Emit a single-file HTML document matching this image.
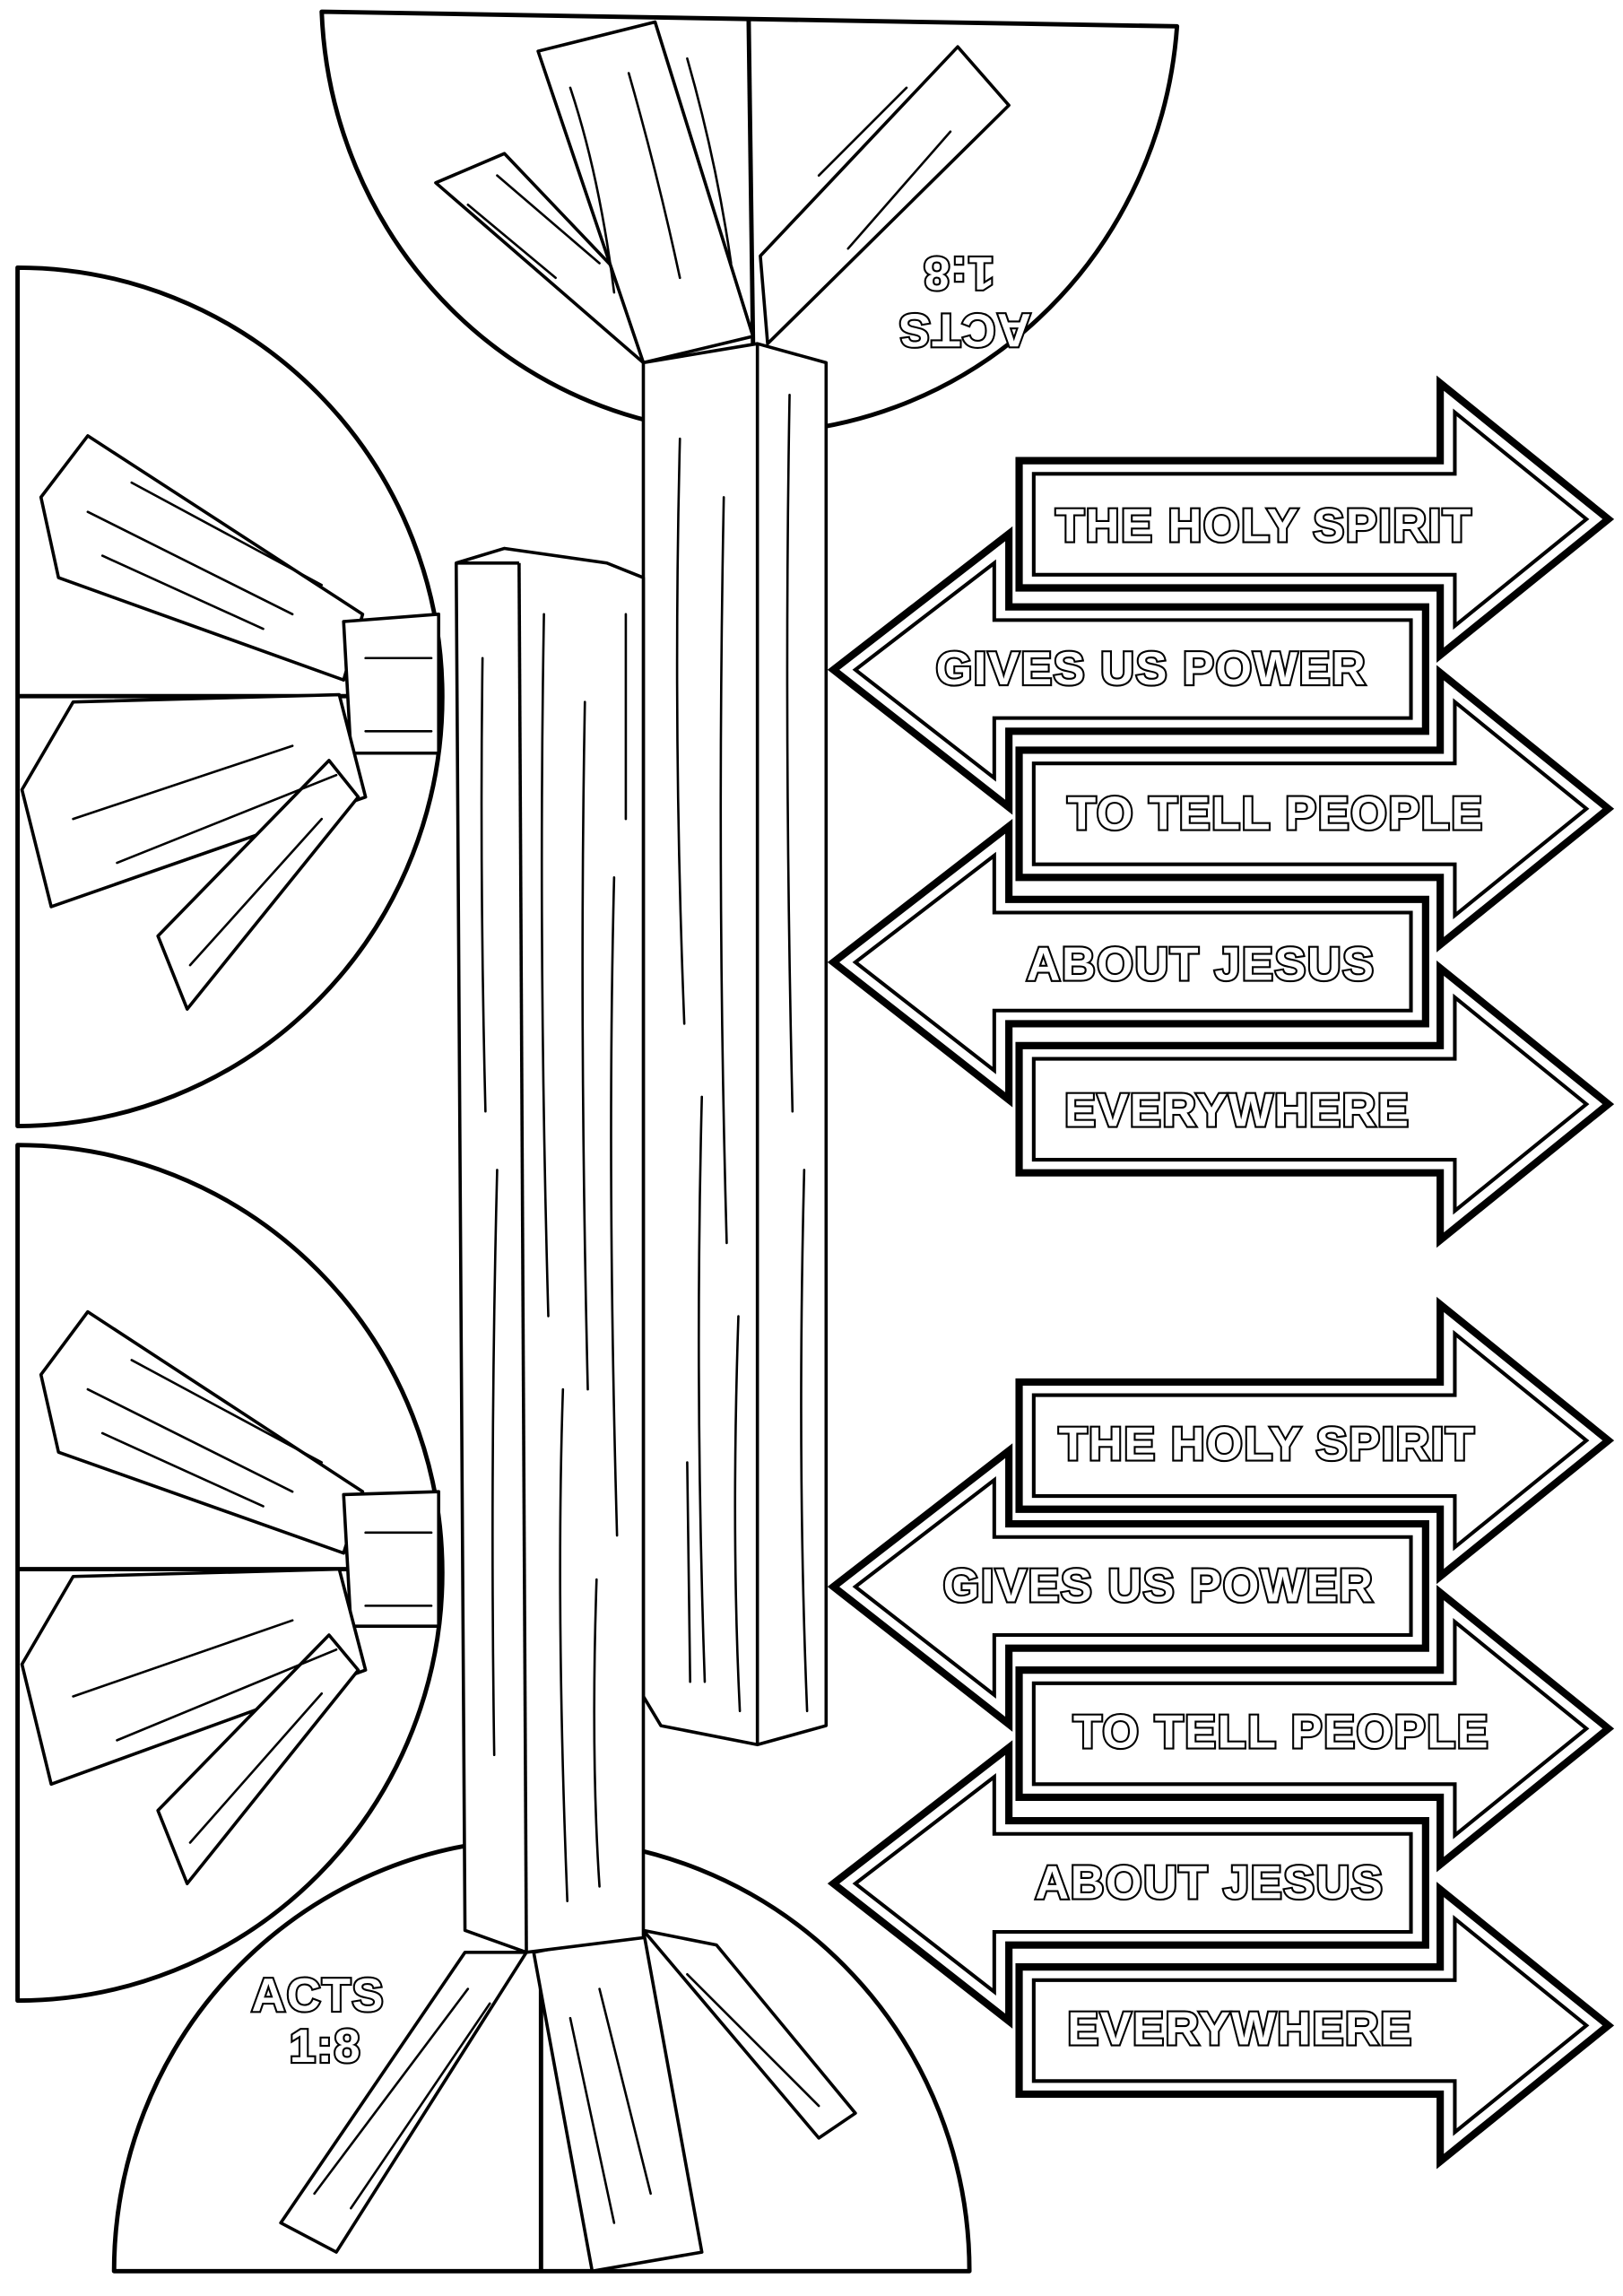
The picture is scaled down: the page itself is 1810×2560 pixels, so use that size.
<!DOCTYPE html>
<html><head><meta charset="utf-8"><style>
html,body{margin:0;padding:0;background:#fff;}
svg{display:block;}
.t{font-family:"Liberation Sans",sans-serif;font-weight:bold;font-size:32px;fill:#fff;stroke:#000;stroke-width:2.6;paint-order:stroke;letter-spacing:1px;}
</style></head><body>
<svg width="1810" height="2560" viewBox="0 0 1110 1570" xmlns="http://www.w3.org/2000/svg">
<rect width="1110" height="1570" fill="#fff"/>
<g fill="#fff" stroke="#000" stroke-width="3" stroke-linejoin="round">
<path d="M220,8 L805,18 A293,300 0 0 1 220,8 Z"/>
<path d="M12,183 L12,770 A290,293 0 0 0 12,183 Z"/>
<path d="M12,783 L12,1368 A290,292 0 0 0 12,783 Z"/>
<path d="M78,1553 L663,1553 A292,295 0 0 0 78,1553 Z"/>
<line x1="512" y1="12" x2="515" y2="235"/>
<line x1="12" y1="476" x2="300" y2="476"/>
<line x1="12" y1="1073" x2="300" y2="1073"/>
<line x1="370" y1="1335" x2="370" y2="1553"/>
</g>
<g fill="#fff" stroke="#000" stroke-width="2.2" stroke-linejoin="round">
<polygon points="298,125 345,105 445,210 440,248"/>
<polygon points="368,35 448,15 515,230 440,248"/>
<polygon points="520,175 655,32 690,72 525,235"/>
<polygon points="28,340 60,298 248,420 235,465 40,395"/>
<polygon points="235,425 300,420 300,515 240,515"/>
<polygon points="15,540 50,480 232,475 250,545 35,620"/>
<polygon points="108,640 225,520 245,545 128,690"/>
<polygon points="28,940 60,897 248,1020 235,1062 40,993"/>
<polygon points="235,1022 300,1020 300,1112 240,1112"/>
<polygon points="15,1138 50,1078 232,1073 250,1142 35,1220"/>
<polygon points="108,1238 225,1118 245,1142 128,1288"/>
<polygon points="192,1520 318,1335 360,1335 230,1540"/>
<polygon points="365,1335 440,1320 480,1540 405,1553"/>
<polygon points="440,1320 490,1330 585,1445 560,1462"/>
<polygon points="440,248 518,235 565,248 565,1180 518,1193 452,1180 440,1160"/>
<line x1="518" y1="235" x2="518" y2="1193"/>
<polygon points="312,385 345,375 415,385 440,395 440,1325 360,1335 318,1320"/>
<line x1="355" y1="385" x2="360" y2="1335"/>
<line x1="312" y1="385" x2="355" y2="385"/>
</g>
<g stroke="#000" stroke-width="1.6" fill="none" stroke-linecap="round">
<path d="M330,450 Q328,600 332,760 M340,800 Q335,1000 338,1200 M372,420 Q368,650 375,900 M385,950 Q380,1100 388,1300 M400,480 Q396,700 402,950 M420,600 Q415,800 422,1050 M408,1080 Q404,1200 410,1290 M428,420 L428,560"/>
<path d="M465,300 Q460,500 468,700 M480,750 Q475,950 482,1150 M495,340 Q490,600 497,850 M505,900 Q500,1050 506,1170 M540,270 Q536,500 542,760 M550,800 Q545,1000 552,1170 M470,1000 L472,1150"/>
<path d="M390,60 Q410,120 420,200 M430,50 Q450,120 465,190 M470,40 Q490,110 500,180 M560,120 L620,60 M580,170 L650,90 M320,140 L380,190 M340,120 L410,180"/>
<path d="M60,350 L200,420 M90,330 L220,400 M70,380 L180,430 M50,560 L200,510 M80,590 L230,530 M250,450 L295,450 M250,500 L295,500 M130,660 L220,560"/>
<path d="M60,950 L200,1020 M90,930 L220,1000 M70,980 L180,1030 M50,1160 L200,1108 M80,1190 L230,1128 M250,1048 L295,1048 M250,1098 L295,1098 M130,1260 L220,1158"/>
<path d="M215,1500 L320,1360 M240,1510 L335,1370 M390,1380 L420,1520 M410,1360 L445,1500 M470,1350 L560,1440"/>
</g>
<g class="t" style="font-size:32px">
<text x="615" y="195" transform="rotate(180 660 205)">ACTS</text>
<text x="630" y="160" transform="rotate(180 655 168)">1:8</text>
<text x="172" y="1375">ACTS</text>
<text x="198" y="1410">1:8</text>
</g>
<defs>
<g id="R"><polygon points="697,315 985,315 985,262 1100,355 985,448 985,402 697,402" fill="#fff" stroke="#000" stroke-width="5" stroke-linejoin="miter"/>
<polygon points="707,324 995,324 995,282 1085,355 995,428 995,393 707,393" fill="none" stroke="#000" stroke-width="2.5"/></g>
<g id="L"><polygon points="975,415 690,415 690,365 570,458 690,552 690,500 975,500" fill="#fff" stroke="#000" stroke-width="5" stroke-linejoin="miter"/>
<polygon points="965,424 680,424 680,385 585,458 680,532 680,491 965,491" fill="none" stroke="#000" stroke-width="2.5"/></g>
</defs>
<use href="#R"/>
<use href="#L"/>
<use href="#R" y="198"/>
<use href="#L" y="200"/>
<use href="#R" y="400"/>
<use href="#R" y="630"/>
<use href="#L" y="627"/>
<use href="#R" y="827"/>
<use href="#L" y="830"/>
<use href="#R" y="1030"/>
<g class="t">
<text x="722" y="370">THE HOLY SPIRIT</text>
<text x="640" y="468">GIVES US POWER</text>
<text x="730" y="567">TO TELL PEOPLE</text>
<text x="702" y="670">ABOUT JESUS</text>
<text x="728" y="770">EVERYWHERE</text>
<text x="724" y="998">THE HOLY SPIRIT</text>
<text x="645" y="1095">GIVES US POWER</text>
<text x="734" y="1195">TO TELL PEOPLE</text>
<text x="708" y="1298">ABOUT JESUS</text>
<text x="730" y="1398">EVERYWHERE</text>
</g>
</svg>
</body></html>
